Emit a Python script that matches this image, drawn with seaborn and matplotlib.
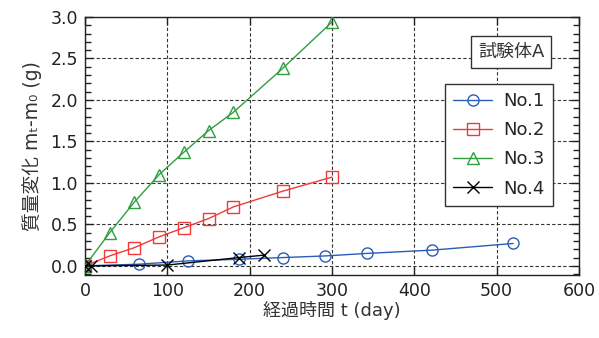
import numpy as np
import pandas as pd
import matplotlib
matplotlib.use('Agg')
import matplotlib.pyplot as plt
from matplotlib.ticker import MultipleLocator
import seaborn as sns

#%% data
day_no1  = [0, 65, 125, 187, 240, 292, 342, 422, 520]
mass_no1 = [0.0, 0.02, 0.06, 0.08, 0.10, 0.12, 0.15, 0.19, 0.27]

day_no2  = [0, 30, 60, 90, 120, 150, 180, 240, 300]
mass_no2 = [0.0, 0.12, 0.22, 0.35, 0.46, 0.57, 0.71, 0.90, 1.07]

day_no3  = [0, 30, 60, 90, 120, 150, 180, 240, 300]
mass_no3 = [0.0, 0.40, 0.77, 1.10, 1.37, 1.63, 1.85, 2.38, 2.94]

day_no4  = [0, 7, 100, 187, 218]
mass_no4 = [0.0, 0.0, 0.01, 0.10, 0.13]

series  = ['No.1', 'No.2', 'No.3', 'No.4']
colors  = ['#2a5db5', '#f03a3a', '#2f9e3f', '#000000']
markers = ['o', 's', '^', 'x']

xticks = [0, 100, 200, 300, 400, 500, 600]
yticks = [0.0, 0.5, 1.0, 1.5, 2.0, 2.5, 3.0]

#%% long table for seaborn
frames = []
for name, d, m in zip(series, [day_no1, day_no2, day_no3, day_no4],
                      [mass_no1, mass_no2, mass_no3, mass_no4]):
    frames.append(pd.DataFrame({'day': d, 'mass': m, 'sample': name}))
df = pd.concat(frames, ignore_index=True)

#%% style
sns.set_style('ticks')
plt.rcParams['font.family'] = ['DejaVu Sans', 'Noto Sans CJK JP']
plt.rcParams['axes.linewidth'] = 1.0

fig = plt.figure(figsize=(5.99, 3.38), dpi=100)
ax = fig.add_axes([85/599, 1-275/338, (579-85)/599, (275-17)/338])

handles = []
for name, col, mk in zip(series, colors, markers):
    sub = df[df['sample'] == name]
    sns.lineplot(data=sub, x='day', y='mass', ax=ax, color=col, marker=mk,
                 markersize=8, markerfacecolor='none',
                 markeredgecolor=col, markeredgewidth=1.0, linewidth=1.0,
                 sort=False, estimator=None, label=name, zorder=3)
    handles.append(ax.lines[-1])

ax.set_xlim(0, 600)
ax.set_ylim(-0.11, 3.0)
ax.set_xticks(xticks)
ax.set_yticks(yticks)
ax.set_yticklabels(['%.1f' % v for v in yticks])
ax.yaxis.set_minor_locator(MultipleLocator(0.1))
ax.tick_params(which='both', direction='in', top=True, right=True,
               labelsize=12.5, color='#222222', labelcolor='#222222')
ax.tick_params(which='major', length=6, width=1.0, pad=5)
ax.tick_params(which='minor', length=4.5, width=1.0)
ax.grid(True, which='major', linestyle=(0, (3, 2)), color='#333333', linewidth=0.8)
ax.set_axisbelow(True)
for sp in ax.spines.values():
    sp.set_color('#222222')

ax.set_xlabel('経過時間 t (day)', fontsize=13, color='#333333', labelpad=1)
# unicode subscripts instead of mathtext (mathtext drops the CJK glyphs)
ax.set_ylabel('質量変化 m\u209c-m\u2080 (g)', fontsize=13.5, color='#333333', labelpad=6)

ax.legend(handles=handles, labels=series, loc='upper right',
          bbox_to_anchor=(0.947, 0.741), fontsize=13, frameon=True,
          fancybox=False, edgecolor='#333333', framealpha=1,
          handlelength=2.2, labelspacing=0.62, borderpad=0.45,
          handletextpad=0.6, borderaxespad=0)

ax.text(0.863, 0.865, '試験体A', transform=ax.transAxes, ha='center', va='center',
        fontsize=13, color='#333333', zorder=5,
        bbox=dict(boxstyle='square,pad=0.38', facecolor='white', edgecolor='#333333', linewidth=1.0))

fig.savefig('out.png', dpi=100)
